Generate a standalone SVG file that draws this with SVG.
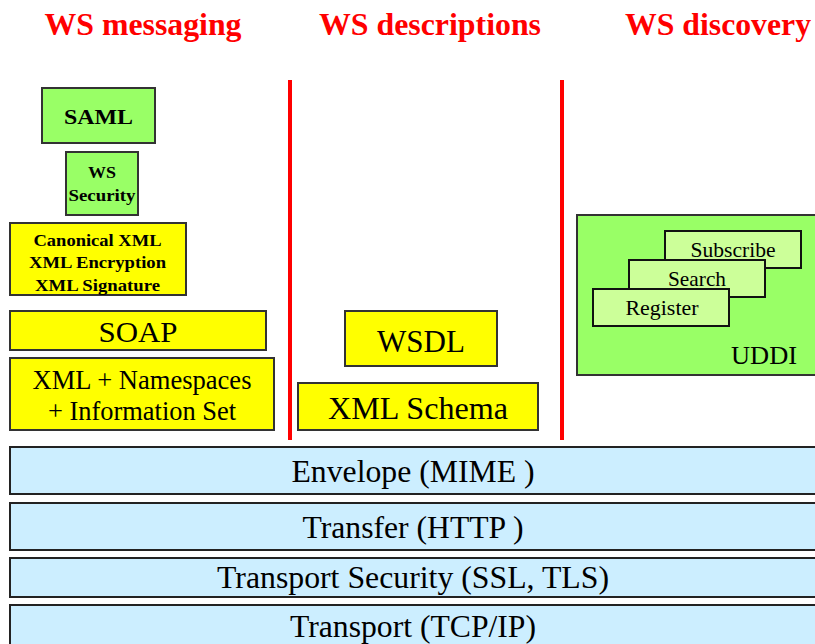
<svg xmlns="http://www.w3.org/2000/svg" width="815" height="644" viewBox="0 0 815 644">
<style>
text{font-family:'Liberation Serif','Times New Roman',Times,'DejaVu Serif',serif}
.h{font-weight:bold;font-size:32px;fill:#ff0000;text-anchor:middle}
.t{fill:#000;text-anchor:middle}
.b{font-weight:bold}
.green{fill:#99ff66;stroke:#333;stroke-width:2}
.lgreen{fill:#ccff99;stroke:#111;stroke-width:2}
.yellow{fill:#ffff00;stroke:#333;stroke-width:2}
.blue{fill:#cceeff;stroke:#222;stroke-width:2}
.sep{stroke:#ff0000;stroke-width:4}
</style>
<rect width="815" height="644" fill="#fff"/>
<g id="headings">
<text class="h" x="143" y="35" textLength="197" lengthAdjust="spacingAndGlyphs">WS messaging</text>
<text class="h" x="430" y="35" textLength="222" lengthAdjust="spacingAndGlyphs">WS descriptions</text>
<text class="h" x="718" y="35" textLength="186" lengthAdjust="spacingAndGlyphs">WS discovery</text>
</g>
<g id="separators">
<line class="sep" x1="290" y1="80" x2="290" y2="440"/>
<line class="sep" x1="562" y1="80" x2="562" y2="440"/>
</g>
<g id="saml"><rect class="green" x="42" y="88" width="113" height="55"/><text class="t b" x="98.5" y="124" font-size="22" textLength="69" lengthAdjust="spacingAndGlyphs">SAML</text></g>
<g id="wssecurity"><rect class="green" x="66" y="152" width="72" height="63"/><text class="t b" x="102" y="178" font-size="17" textLength="28" lengthAdjust="spacingAndGlyphs">WS</text><text class="t b" x="102" y="201" font-size="17" textLength="67" lengthAdjust="spacingAndGlyphs">Security</text></g>
<g id="xmlsec"><rect class="yellow" x="10" y="223" width="176" height="72"/><text class="t b" x="97.5" y="246" font-size="17" textLength="128" lengthAdjust="spacingAndGlyphs">Canonical XML</text><text class="t b" x="97.5" y="268" font-size="17" textLength="137" lengthAdjust="spacingAndGlyphs">XML Encryption</text><text class="t b" x="97.5" y="291" font-size="17" textLength="125" lengthAdjust="spacingAndGlyphs">XML Signature</text></g>
<g id="soap"><rect class="yellow" x="10" y="311" width="256" height="39"/><text class="t" x="138" y="342" font-size="30" textLength="79" lengthAdjust="spacingAndGlyphs">SOAP</text></g>
<g id="xml"><rect class="yellow" x="10" y="358" width="264" height="72"/><text class="t" x="142" y="389" font-size="26.5" textLength="219" lengthAdjust="spacingAndGlyphs">XML + Namespaces</text><text class="t" x="142" y="420" font-size="26.5" textLength="188" lengthAdjust="spacingAndGlyphs">+ Information Set</text></g>
<g id="wsdl"><rect class="yellow" x="345" y="311" width="152" height="55"/><text class="t" x="421" y="352" font-size="31" textLength="88" lengthAdjust="spacingAndGlyphs">WSDL</text></g>
<g id="xmlschema"><rect class="yellow" x="298" y="383" width="240" height="47"/><text class="t" x="418" y="419" font-size="31" textLength="180" lengthAdjust="spacingAndGlyphs">XML Schema</text></g>
<g id="uddi">
<rect class="green" x="577" y="215" width="245" height="160"/>
<text class="t" x="764" y="364" font-size="26" textLength="66" lengthAdjust="spacingAndGlyphs">UDDI</text>
</g>
<g id="subscribe"><rect class="lgreen" x="665" y="231" width="136" height="37"/><text class="t" x="733" y="257" font-size="21" textLength="85" lengthAdjust="spacingAndGlyphs">Subscribe</text></g>
<g id="search"><rect class="lgreen" x="629" y="260" width="136" height="37"/><text class="t" x="697" y="286" font-size="21" textLength="58" lengthAdjust="spacingAndGlyphs">Search</text></g>
<g id="register"><rect class="lgreen" x="593" y="289" width="136" height="37"/><text class="t" x="662" y="315" font-size="21" textLength="73" lengthAdjust="spacingAndGlyphs">Register</text></g>
<g id="envelope"><rect class="blue" x="10" y="447" width="812" height="47"/><text class="t" x="413" y="482" font-size="31" textLength="243" lengthAdjust="spacingAndGlyphs">Envelope (MIME )</text></g>
<g id="transfer"><rect class="blue" x="10" y="503" width="812" height="47"/><text class="t" x="413" y="538" font-size="31" textLength="221" lengthAdjust="spacingAndGlyphs">Transfer (HTTP )</text></g>
<g id="transportsecurity"><rect class="blue" x="10" y="558" width="812" height="39"/><text class="t" x="413" y="588" font-size="31" textLength="392" lengthAdjust="spacingAndGlyphs">Transport Security (SSL, TLS)</text></g>
<g id="transport"><rect class="blue" x="10" y="605" width="812" height="47"/><text class="t" x="413" y="637" font-size="31" textLength="246" lengthAdjust="spacingAndGlyphs">Transport (TCP/IP)</text></g>
<g id="connectors"></g>
</svg>
